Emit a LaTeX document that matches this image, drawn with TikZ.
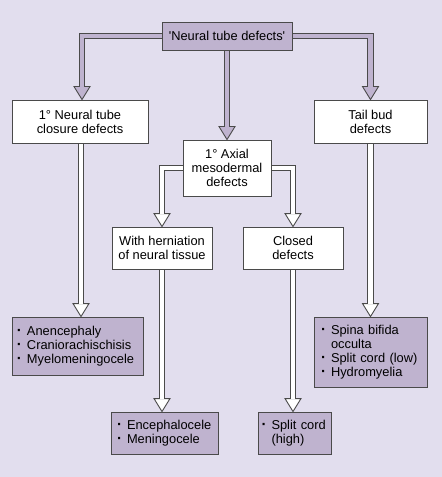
\documentclass[tikz,border=0pt]{standalone}
\usepackage{fontspec}
\setmainfont{Liberation Sans}
\usetikzlibrary{calc,backgrounds}
\definecolor{bgc}{HTML}{E2DEEE}
\definecolor{purp}{HTML}{BFB3CF}
\definecolor{edge}{HTML}{4A4A4A}
\newcommand\bu{\makebox[10bp][l]{\fontsize{15}{14}\selectfont\bfseries ·}}
\newcommand\ind{\hspace*{10bp}}
\tikzset{
  box/.style={draw=edge, line width=0.9bp, fill=white, align=center, inner sep=0pt,
    font=\fontsize{12.9}{14}\selectfont},
  pbox/.style={box, fill=purp},
  lst/.style={draw=edge, line width=0.9bp, fill=purp, align=left, inner ysep=0pt,
    font=\fontsize{12.9}{14}\selectfont},
  shaft/.style={draw=edge, line width=0.9bp, double=#1, double distance=4.4bp, line join=miter},
  headtri/.style={draw=edge, line width=0.9bp, fill=#1, line join=miter},
}
\newcommand\fathead[2]{% #1 colour, #2 tip
  \filldraw[headtri=#1] ($(#2)+(-8,-13)$) -- (#2) -- ($(#2)+(8,-13)$) -- cycle;}
\begin{document}
\begin{tikzpicture}[x=1bp,y=-1bp]
\useasboundingbox (0,0) rectangle (442,477);
% nodes
\node[pbox, minimum width=130bp, minimum height=28bp] (top) at (227,36) {\textquotesingle Neural tube defects\textquotesingle};
\node[box, minimum width=136bp, minimum height=43bp] (n1) at (80,121.5) {1° Neural tube\\closure defects};
\node[box, minimum width=113bp, minimum height=43bp] (tb) at (370.5,121.5) {Tail bud\\defects};
\node[box, minimum width=88bp, minimum height=56bp] (ax) at (227,168) {1° Axial\\mesodermal\\defects};
\node[box, minimum width=100bp, minimum height=42bp] (hern) at (162,248) {With herniation\\of neural tissue};
\node[box, minimum width=100bp, minimum height=42bp] (closed) at (293,248) {Closed\\defects};
\node[lst, inner xsep=5bp, text width=121bp, minimum height=58bp] (l1) at (77.5,346)
  {\bu Anencephaly\\\bu Craniorachischisis\\\bu Myelomeningocele};
\node[lst, inner xsep=7bp, text width=99bp, minimum height=70bp] (r1) at (370.5,352)
  {\bu Spina bifida\\\ind occulta\\\bu Split cord (low)\\\bu Hydromyelia};
\node[lst, inner xsep=6bp, text width=95bp, minimum height=42bp] (enc) at (164.5,433)
  {\bu Encephalocele\\\bu Meningocele};
\node[lst, inner xsep=3.5bp, text width=66bp, minimum height=42bp] (sc) at (294.5,433)
  {\bu Split cord\\\ind (high)};
% tips
\coordinate (t1) at ($(n1.north)+(2,0)$);
\coordinate (t2) at (ax.north);
\coordinate (t3) at (tb.north);
\coordinate (t4) at (hern.north);
\coordinate (t5) at (closed.north);
\coordinate (t6) at ($(n1.south |- l1.north)+(1,0)$);
\coordinate (t7) at (tb.south |- r1.north);
\coordinate (t8) at (hern.south |- enc.north);
\coordinate (t9) at (closed.south |- sc.north);
\begin{pgfonlayer}{background}
\fill[bgc] (0,0) rectangle (442,477);
% heads
\fathead{purp}{t1}
\fathead{purp}{t2}
\fathead{purp}{t3}
\fathead{white}{t4}
\fathead{white}{t5}
\fathead{white}{t6}
\fathead{white}{t7}
\fathead{white}{t8}
\fathead{white}{t9}
% shafts
\draw[shaft=purp] (top.west) -| ($(t1)+(0,-12.4)$);
\draw[shaft=purp] (top.south) -- ($(t2)+(0,-12.4)$);
\draw[shaft=purp] (top.east) -| ($(t3)+(0,-12.4)$);
\draw[shaft=white] (ax.west) -| ($(t4)+(0,-12.4)$);
\draw[shaft=white] (ax.east) -| ($(t5)+(0,-12.4)$);
\draw[shaft=white] ($(n1.south)+(1,0)$) -- ($(t6)+(0,-12.4)$);
\draw[shaft=white] (tb.south) -- ($(t7)+(0,-12.4)$);
\draw[shaft=white] (hern.south) -- ($(t8)+(0,-12.4)$);
\draw[shaft=white] (closed.south) -- ($(t9)+(0,-12.4)$);
\end{pgfonlayer}
\end{tikzpicture}
\end{document}
